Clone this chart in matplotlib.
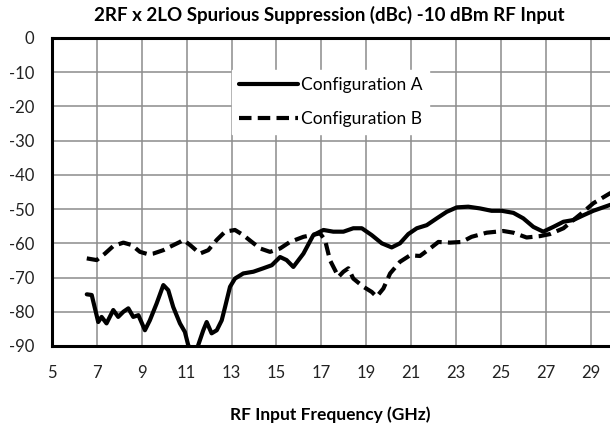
import matplotlib
matplotlib.use("Agg")
import matplotlib.pyplot as plt

plt.rcParams['font.family'] = ['Lato', 'DejaVu Sans']
plt.rcParams['axes.unicode_minus'] = False

# Configuration A (solid) - frequency in GHz, suppression in dBc
freq_a = [6.55, 6.77, 7.06, 7.21, 7.43, 7.73, 7.95, 8.18, 8.40, 8.62, 8.85, 9.14,
          9.36, 9.66, 9.96, 10.18, 10.40, 10.70, 10.92, 11.07, 11.3, 11.5, 11.74,
          11.89, 12.11, 12.34, 12.56, 12.71, 12.93, 13.15, 13.52, 13.97, 14.41,
          14.79, 15.16, 15.45, 15.75, 16.2, 16.64, 17.09, 17.53, 17.98, 18.42,
          18.80, 19.24, 19.69, 20.13, 20.50, 20.87, 21.25, 21.69, 22.14, 22.58,
          23.03, 23.54, 24.06, 24.58, 25.03, 25.55, 25.99, 26.44, 26.88, 27.33,
          27.78, 28.22, 28.67, 29.11, 29.85, 30.5]
supp_a = [-74.9, -75.1, -83.0, -81.5, -83.4, -79.5, -81.5, -80.0, -79.0, -81.5,
          -81.0, -85.4, -82.5, -77.6, -72.2, -73.7, -78.6, -83.4, -85.9, -89.8,
          -92.0, -90.0, -85.4, -83.0, -86.3, -85.4, -82.5, -78.6, -72.7, -70.3,
          -68.8, -68.3, -67.3, -66.4, -64.0, -64.9, -66.9, -63.0, -57.6, -56.1,
          -56.6, -56.6, -55.6, -55.6, -57.6, -60.0, -61.2, -60.0, -57.3, -55.6,
          -54.7, -52.7, -50.8, -49.5, -49.3, -49.8, -50.5, -50.5, -51.1, -52.7,
          -55.2, -56.6, -55.2, -53.7, -53.2, -51.8, -50.5, -48.8, -47.5]

# Configuration B (dashed)
freq_b = [6.55, 6.99, 7.36, 7.73, 8.18, 8.55, 8.92, 9.29, 9.51, 9.96, 10.26,
          10.70, 10.85, 11.15, 11.59, 11.96, 12.34, 12.71, 13.15, 13.52, 13.9,
          14.27, 14.71, 15.16, 15.6, 16.2, 16.94, 17.16, 17.38, 17.76, 17.98,
          18.2, 18.42, 18.87, 19.24, 19.46, 19.76, 20.06, 20.50, 20.95, 21.39,
          21.84, 22.21, 22.73, 23.25, 23.69, 24.36, 25.1, 25.55, 26.14, 26.73,
          27.18, 27.78, 28.22, 28.67, 29.11, 29.85, 30.5]
supp_b = [-64.4, -64.9, -63.0, -60.8, -59.8, -60.5, -62.5, -63.2, -63.0, -62.0,
          -61.0, -59.6, -59.0, -60.5, -63.0, -62.0, -59.0, -56.6, -56.1, -57.6,
          -59.6, -61.5, -62.5, -61.5, -59.6, -58.1, -57.1, -59.0, -64.9, -69.8,
          -68.3, -67.3, -70.3, -72.7, -74.2, -75.6, -73.2, -68.8, -65.4, -63.5,
          -63.7, -61.5, -59.6, -59.8, -59.6, -58.1, -56.9, -56.4, -56.9, -58.3,
          -57.9, -57.3, -55.6, -53.2, -50.8, -48.3, -45.4, -43.5]

x_ticks = list(range(5, 31, 2))
y_ticks = list(range(-90, 1, 10))

fig = plt.figure(figsize=(6.10, 4.29), dpi=100)
# plot area runs past the right edge of the figure
ax = fig.add_axes([0.0852, 0.1935, 0.957, 0.718])

ax.plot(freq_a, supp_a, color='black', lw=3.0, solid_joinstyle='round',
        solid_capstyle='round', label='Configuration A', zorder=3)
ax.plot(freq_b, supp_b, color='black', lw=3.0, dashes=(3, 1.5),
        label='Configuration B', zorder=3)

ax.set_xlim(5, 31)
ax.set_ylim(-90, 0)
ax.set_xticks(x_ticks)
ax.set_yticks(y_ticks)
ax.grid(True, color='#8c8c8c', lw=1.1, zorder=0)
ax.set_axisbelow(True)
ax.tick_params(length=0, labelsize=12, colors='#222222')
ax.tick_params(axis='x', pad=14)
ax.tick_params(axis='y', pad=13)
for s in ax.spines.values():
    s.set_linewidth(2.2)
ax.spines['right'].set_visible(False)

fig.text(0.54, 0.965, '2RF x 2LO Spurious Suppression (dBc) -10 dBm RF Input',
         ha='center', va='center', fontsize=13.5, fontweight='bold')
ax.set_xlabel('RF Input Frequency (GHz)', fontsize=12.5, fontweight='bold')
ax.xaxis.set_label_coords(0.476, -0.195)

leg = ax.legend(loc='upper left', bbox_to_anchor=(232 / 610, 1 - 70 / 429),
                bbox_transform=fig.transFigure, borderaxespad=0, fontsize=12.5,
                handlelength=3.4, handletextpad=0.15, labelspacing=1.05,
                fancybox=False, framealpha=1, edgecolor='white')

fig.savefig('out.png', dpi=100)
